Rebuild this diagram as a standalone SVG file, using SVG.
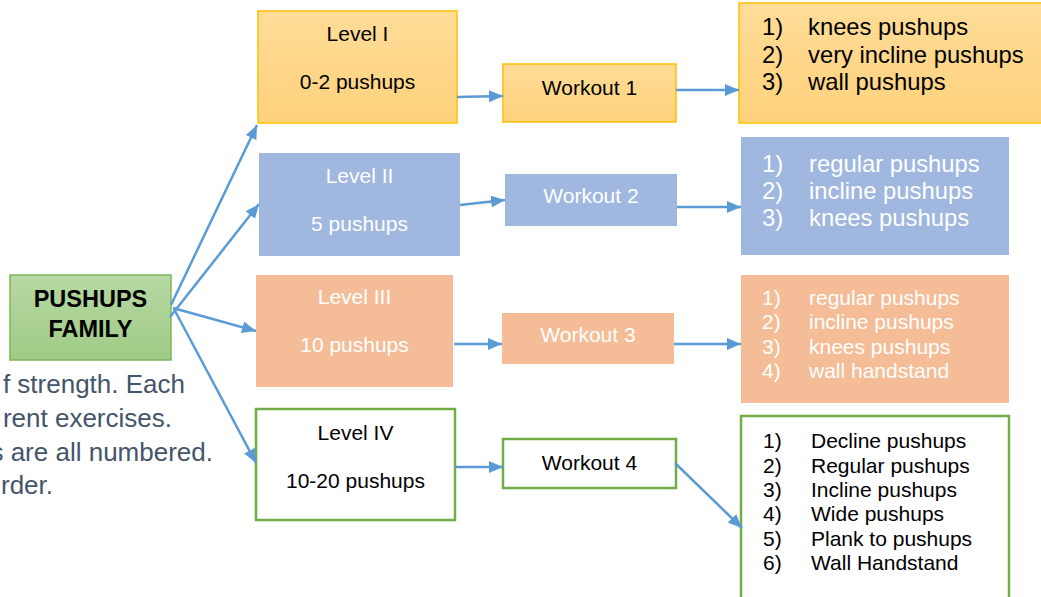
<svg xmlns="http://www.w3.org/2000/svg" width="1041" height="597" viewBox="0 0 1041 597">
<defs>
<linearGradient id="gy" x1="0" y1="0" x2="0" y2="1"><stop offset="0" stop-color="#FFDC98"/><stop offset="1" stop-color="#FFD27C"/></linearGradient>
<linearGradient id="gg" x1="0" y1="0" x2="0" y2="1"><stop offset="0" stop-color="#B7D8A3"/><stop offset="1" stop-color="#9FCB86"/></linearGradient>
<marker id="ah" viewBox="0 0 14 12" refX="14" refY="6" markerWidth="14" markerHeight="12" markerUnits="userSpaceOnUse" orient="auto"><path d="M0,0 L14,6 L0,12 z" fill="#5B9BD5"/></marker>
<style>
.t{font-family:"Liberation Sans",Arial,sans-serif;}
.lv{font-size:21px;text-anchor:middle;}
.wh{fill:#FFFFFF;}
.bk{fill:#000000;}
.y{fill:url(#gy);stroke:#FFC000;stroke-width:1.5;}
.b{fill:#A0B7E0;}
.o{fill:#F4BD97;}
.g{fill:#FFFFFF;stroke:#70AD47;stroke-width:2.5;}
.c{stroke:#5B9BD5;stroke-width:2.5;fill:none;marker-end:url(#ah);}
.body{font-size:26px;fill:#44546A;}
</style>
</defs>
<rect width="1041" height="597" fill="#FFFFFF"/>

<g id="caption" class="t body">
<text x="185" y="393" text-anchor="end">f strength. Each</text>
<text x="172" y="427" text-anchor="end">rent exercises.</text>
<text x="213" y="461" text-anchor="end">s are all numbered.</text>
<text x="53" y="494" text-anchor="end">rder.</text>
</g>

<g id="root">
<rect x="10" y="275" width="161" height="85" fill="url(#gg)" stroke="#7DB65A" stroke-width="1.5"/>
<text class="t" x="90.5" y="307" font-size="23.5" font-weight="bold" text-anchor="middle">PUSHUPS</text>
<text class="t" x="90.5" y="337" font-size="23.5" font-weight="bold" text-anchor="middle">FAMILY</text>
</g>

<g id="level1">
<rect class="y" x="258" y="11" width="199" height="112"/>
<text class="t lv bk" x="357.5" y="41">Level I</text>
<text class="t lv bk" x="357.5" y="89">0-2 pushups</text>
</g>
<g id="workout1">
<rect class="y" x="503" y="64" width="173" height="58"/>
<text class="t lv bk" x="589.5" y="95">Workout 1</text>
</g>
<g id="list1" class="t" font-size="23.8">
<rect class="y" x="739" y="3" width="310" height="120"/>
<text class="bk" x="762" y="35">1)</text><text class="bk" x="808" y="35">knees pushups</text>
<text class="bk" x="762" y="63">2)</text><text class="bk" x="808" y="63">very incline pushups</text>
<text class="bk" x="762" y="90">3)</text><text class="bk" x="808" y="90">wall pushups</text>
</g>

<g id="level2">
<rect class="b" x="259" y="153" width="201" height="103"/>
<text class="t lv wh" x="359.5" y="183">Level II</text>
<text class="t lv wh" x="359.5" y="231">5 pushups</text>
</g>
<g id="workout2">
<rect class="b" x="505" y="174" width="172" height="52"/>
<text class="t lv wh" x="591" y="203">Workout 2</text>
</g>
<g id="list2" class="t" font-size="23.8">
<rect class="b" x="741" y="137" width="268" height="118"/>
<text class="wh" x="762" y="172">1)</text><text class="wh" x="809" y="172">regular pushups</text>
<text class="wh" x="762" y="199">2)</text><text class="wh" x="809" y="199">incline pushups</text>
<text class="wh" x="762" y="226">3)</text><text class="wh" x="809" y="226">knees pushups</text>
</g>

<g id="level3">
<rect class="o" x="256" y="275" width="197" height="112"/>
<text class="t lv wh" x="354.5" y="304">Level III</text>
<text class="t lv wh" x="354.5" y="352">10 pushups</text>
</g>
<g id="workout3">
<rect class="o" x="502" y="313" width="172" height="51"/>
<text class="t lv wh" x="588" y="342">Workout 3</text>
</g>
<g id="list3" class="t" font-size="21">
<rect class="o" x="741" y="275" width="268" height="128"/>
<text class="wh" x="762" y="305">1)</text><text class="wh" x="809" y="305">regular pushups</text>
<text class="wh" x="762" y="329">2)</text><text class="wh" x="809" y="329">incline pushups</text>
<text class="wh" x="762" y="354">3)</text><text class="wh" x="809" y="354">knees pushups</text>
<text class="wh" x="762" y="378">4)</text><text class="wh" x="809" y="378">wall handstand</text>
</g>

<g id="level4">
<rect class="g" x="256" y="409" width="199" height="111"/>
<text class="t lv bk" x="355.5" y="440">Level IV</text>
<text class="t lv bk" x="355.5" y="488">10-20 pushups</text>
</g>
<g id="workout4">
<rect class="g" x="503" y="439" width="173" height="49"/>
<text class="t lv bk" x="589.5" y="470">Workout 4</text>
</g>
<g id="list4" class="t" font-size="21">
<rect class="g" x="741" y="416" width="268" height="200"/>
<text class="bk" x="763" y="448">1)</text><text class="bk" x="811" y="448">Decline pushups</text>
<text class="bk" x="763" y="473">2)</text><text class="bk" x="811" y="473">Regular pushups</text>
<text class="bk" x="763" y="497">3)</text><text class="bk" x="811" y="497">Incline pushups</text>
<text class="bk" x="763" y="521">4)</text><text class="bk" x="811" y="521">Wide pushups</text>
<text class="bk" x="763" y="546">5)</text><text class="bk" x="811" y="546">Plank to pushups</text>
<text class="bk" x="763" y="570">6)</text><text class="bk" x="811" y="570">Wall Handstand</text>
</g>

<g id="connectors">
<line class="c" x1="171" y1="305" x2="257" y2="125"/>
<line class="c" x1="170" y1="317" x2="259" y2="204"/>
<line class="c" x1="173" y1="308" x2="256" y2="331"/>
<line class="c" x1="174" y1="309" x2="256" y2="463"/>
<line class="c" x1="457" y1="97" x2="503" y2="96"/>
<line class="c" x1="676" y1="90" x2="739" y2="90"/>
<line class="c" x1="460" y1="205" x2="505" y2="200"/>
<line class="c" x1="677" y1="207" x2="741" y2="207"/>
<line class="c" x1="454" y1="344" x2="502" y2="344"/>
<line class="c" x1="674" y1="344" x2="741" y2="344"/>
<line class="c" x1="455" y1="467" x2="503" y2="467"/>
<line class="c" x1="675" y1="463" x2="742" y2="528"/>
</g>
</svg>
